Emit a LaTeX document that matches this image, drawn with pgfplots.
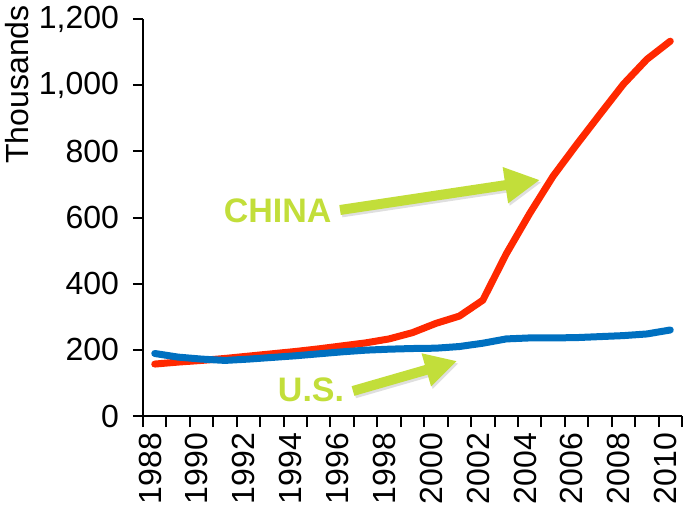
\documentclass[border=0pt]{standalone}
\usepackage{pgfplots}
\pgfplotsset{compat=1.18}
\usepackage{fontspec}
\setmainfont{Liberation Sans}
\usetikzlibrary{calc,arrows.meta}
\definecolor{cnred}{RGB}{255,40,0}
\definecolor{usblue}{RGB}{0,112,192}
\definecolor{lime}{RGB}{194,222,58}
\pgfplotstableread{
x china us
0 157 189
1 163 178
2 168 172
3 174 168
4 181 172
5 188 177
6 195 182
7 203 188
8 212 194
9 221 199
10 233 202
11 252 204
12 280 205
13 302 210
14 350 220
15 490 233
16 612 236
17 725 236
18 820 237
19 912 240
20 1003 243
21 1078 248
22 1133 260
}\datatable
\begin{document}
\begin{tikzpicture}
\begin{axis}[
  scale only axis,
  width=269.5pt, height=198.5pt,
  xmin=-0.5, xmax=22.5,
  ymin=0, ymax=1200,
  axis x line*=bottom,
  axis y line*=left,
  axis line style={line width=1pt,-},
  tick align=outside,
  xtick={-0.2,1.8,...,21.8},
  xticklabels={1988,1990,1992,1994,1996,1998,2000,2002,2004,2006,2008,2010},
  minor xtick={-0.5,0.5,...,22.5},
  major x tick style={draw=none},
  minor x tick style={black,line width=1pt},
  minor tick length=5.5pt,
  major tick length=5pt,
  ytick={0,200,...,1200},
  major y tick style={black,line width=1pt},
  /pgf/number format/1000 sep={,},
  /pgf/number format/assume math mode=true,
  tick label style={font=\fontsize{16}{18}\selectfont},
  xticklabel style={rotate=90,anchor=east},
  yticklabel style={xshift=-3.5pt},
  ylabel={Thousands},
  ylabel style={at={(axis description cs:-0.234,0.835)},anchor=center,font=\fontsize{16}{18}\selectfont},
  clip=false,
]
\addplot[cnred,line width=3.5pt,line join=round,line cap=round] table[x=x,y=china]{\datatable};
\addplot[usblue,line width=3.5pt,line join=round,line cap=round] table[x=x,y=us]{\datatable};
% annotations
\draw[gray!25,line width=5pt,-{Triangle[length=17.5pt,width=17pt]}] ([xshift=0.8pt,yshift=-1.2pt]axis cs:7.908,622.7) -- ([xshift=0.8pt,yshift=-1.2pt]axis cs:16.44,713.4);
\draw[lime,line width=5pt,-{Triangle[length=17.5pt,width=17pt]}] (axis cs:7.908,622.7) -- (axis cs:16.44,713.4);
\draw[gray!25,line width=5pt,-{Triangle[length=16pt,width=16pt]}] ([xshift=0.8pt,yshift=-1.2pt]axis cs:8.46,75.6) -- ([xshift=0.8pt,yshift=-1.2pt]axis cs:12.90,166.3);
\draw[lime,line width=5pt,-{Triangle[length=16pt,width=16pt]}] (axis cs:8.46,75.6) -- (axis cs:12.90,166.3);
\node[lime,font=\fontsize{17}{19}\selectfont\bfseries] at (axis cs:5.249,620.3) {CHINA};
\node[lime,font=\fontsize{17}{19}\selectfont\bfseries] at (axis cs:6.67,78.6) {U.S.};
\end{axis}
\pgfresetboundingbox
\path ($(current axis.south west)+(-71.5pt,-54.5pt)$) rectangle ($(current axis.north east)+(9pt,9.5pt)$);
\end{tikzpicture}
\end{document}
